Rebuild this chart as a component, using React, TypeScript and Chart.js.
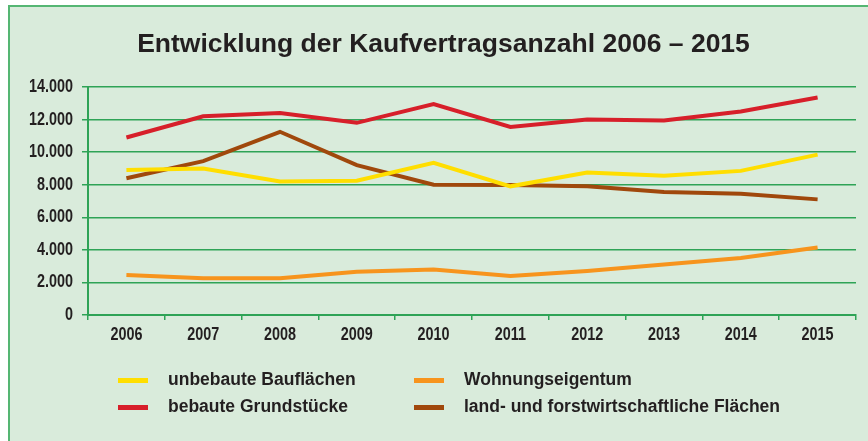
import React, { useEffect, useRef } from "react";
import { Chart, registerables } from "chart.js";

Chart.register(...registerables);

const years = ["2006", "2007", "2008", "2009", "2010", "2011", "2012", "2013", "2014", "2015"];
const unbebauteBauflaechen = [8900, 9000, 8200, 8250, 9350, 7900, 8750, 8550, 8850, 9850];
const bebauteGrundstuecke = [10900, 12200, 12400, 11800, 12950, 11550, 12000, 11950, 12500, 13350];
const wohnungseigentum = [2450, 2250, 2250, 2650, 2800, 2400, 2700, 3100, 3500, 4150];
const landForst = [8400, 9450, 11250, 9200, 8000, 7980, 7900, 7550, 7450, 7100];
const seriesNames = [
  "unbebaute Bauflächen",
  "bebaute Grundstücke",
  "Wohnungseigentum",
  "land- und forstwirtschaftliche Flächen",
];
const seriesColors = ["#ffde00", "#d71f2a", "#f7941d", "#a0480c"];
const titleText = "Entwicklung der Kaufvertragsanzahl 2006 – 2015";

const GRID = "#2ea356";
const TEXT = "#231f20";
const TICK_FONT = "bold 18px 'Liberation Sans', Arial, sans-serif";
const NARROW = 0.8;

const formatDe = (v: number) => {
  const s = String(Math.round(v));
  return s.replace(/\B(?=(\d{3})+(?!\d))/g, ".");
};

const framePlugin = {
  id: "frame",
  beforeDraw(chart: any) {
    const ctx = chart.ctx;
    const w = chart.width;
    const h = chart.height;
    ctx.save();
    ctx.fillStyle = "#ffffff";
    ctx.fillRect(0, 0, w, h);
    ctx.fillStyle = "#d9ebdb";
    ctx.fillRect(9, 6, w - 9, h - 6);
    ctx.strokeStyle = "#55b673";
    ctx.lineWidth = 2;
    ctx.beginPath();
    ctx.moveTo(9, h);
    ctx.lineTo(9, 6);
    ctx.lineTo(w, 6);
    ctx.stroke();
    ctx.restore();
  },
  afterDraw(chart: any) {
    const ctx = chart.ctx;
    ctx.save();
    ctx.fillStyle = TEXT;
    ctx.textAlign = "center";
    ctx.textBaseline = "middle";
    ctx.font = "bold 26.5px 'Liberation Sans', Arial, sans-serif";
    ctx.fillText(titleText, 443.5, 45);

    // condensed tick labels
    ctx.font = TICK_FONT;
    const ys = chart.scales.y;
    ys.ticks.forEach((t: any) => {
      const py = ys.getPixelForValue(t.value);
      ctx.save();
      ctx.translate(ys.right - 15, py);
      ctx.scale(NARROW, 1);
      ctx.textAlign = "right";
      ctx.fillText(formatDe(t.value), 0, 0);
      ctx.restore();
    });
    const xs = chart.scales.x;
    years.forEach((label, i) => {
      const px = xs.getPixelForValue(i);
      ctx.save();
      ctx.translate(px, xs.top + 20);
      ctx.scale(NARROW, 1);
      ctx.textAlign = "center";
      ctx.fillText(label, 0, 0);
      ctx.restore();
    });

    ctx.font = "bold 17.5px 'Liberation Sans', Arial, sans-serif";
    ctx.textAlign = "left";
    const cols = [118, 414];
    const rows = [380.5, 407.5];
    const order = [0, 2, 1, 3];
    order.forEach((si, idx) => {
      const col = idx % 2;
      const row = Math.floor(idx / 2);
      const x = cols[col];
      const y = rows[row];
      ctx.fillStyle = chart.data.datasets[si].borderColor;
      ctx.fillRect(x, y - 2.5, 30, 5);
      ctx.fillStyle = TEXT;
      ctx.fillText(chart.data.datasets[si].label, x + 50, y);
    });
    ctx.restore();
  },
};

export default function App() {
  const ref = useRef<HTMLCanvasElement | null>(null);

  useEffect(() => {
    if (!ref.current) return;
    const datasets = [unbebauteBauflaechen, bebauteGrundstuecke, wohnungseigentum, landForst].map(
      (data, i) => ({
        label: seriesNames[i],
        data,
        borderColor: seriesColors[i],
        backgroundColor: seriesColors[i],
        borderWidth: 4,
        pointRadius: 0,
        tension: 0,
        fill: false,
      })
    );
    const chart = new Chart(ref.current, {
      type: "line",
      data: { labels: years, datasets },
      options: {
        animation: false,
        responsive: false,
        maintainAspectRatio: false,
        layout: { padding: { left: 9, top: 87, right: 12, bottom: 0 } },
        plugins: {
          legend: { display: false },
          title: { display: false },
          tooltip: { enabled: false },
        },
        scales: {
          x: {
            offset: true,
            afterFit: (scale: any) => {
              scale.height = 126;
            },
            grid: {
              offset: true,
              drawOnChartArea: false,
              drawTicks: true,
              tickLength: 5,
              color: GRID,
              lineWidth: 1.5,
            },
            border: { color: GRID, width: 2 },
            ticks: { display: false },
          },
          y: {
            min: 0,
            max: 14000,
            afterFit: (scale: any) => {
              scale.width = 79;
            },
            grid: {
              color: GRID,
              lineWidth: 1.5,
              drawTicks: true,
              tickLength: 6,
            },
            border: { color: GRID, width: 2 },
            ticks: { display: false, stepSize: 2000 },
          },
        },
      },
      plugins: [framePlugin],
    } as any);
    return () => chart.destroy();
  }, []);

  return (
    <div style={{ position: "fixed", left: 0, top: 0, width: 868, height: 441, background: "#fff" }}>
      <canvas ref={ref} width={868} height={441} style={{ width: 868, height: 441, display: "block" }} />
    </div>
  );
}
